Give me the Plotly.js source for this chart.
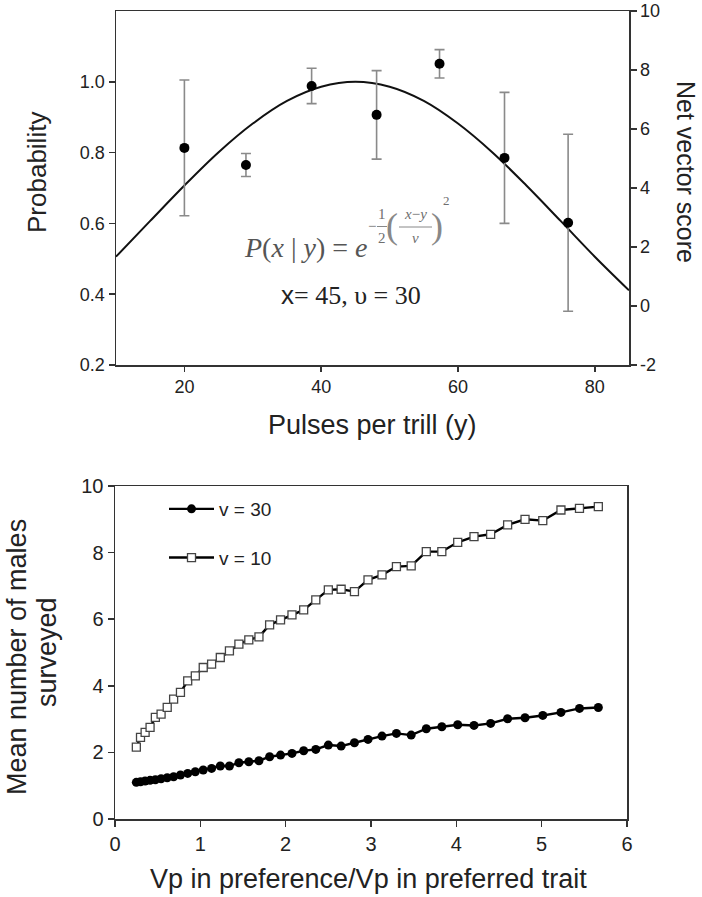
<!DOCTYPE html>
<html>
<head>
<meta charset="utf-8">
<script src="https://cdn.plot.ly/plotly-3.0.1.min.js"></script>
<style>html,body{margin:0;padding:0;background:#fff;}#chart{width:702px;height:897px;}</style>
</head>
<body>
<div id="chart"></div>
<script>
// ---- Top panel data ----
const pulsesX = [20, 29, 38.6, 48.1, 57.3, 66.8, 76.1];
const netVectorScore = [5.36, 4.78, 7.46, 6.48, 8.21, 5.02, 2.82];
const netVectorErr = [2.3, 0.39, 0.6, 1.5, 0.48, 2.22, 3.0];
const curveX = [10, 15, 20, 25, 30, 35, 40, 45, 50, 55, 60, 65, 70, 75, 80, 85];
const curveProb = [0.506, 0.607, 0.707, 0.801, 0.882, 0.946, 0.986, 1.0, 0.986, 0.946, 0.882, 0.801, 0.707, 0.607, 0.506, 0.411];
const probTicks = [0.2, 0.4, 0.6, 0.8, 1.0];
const scoreTicks = [-2, 0, 2, 4, 6, 8, 10];
const scoreTickText = ['-2', '0', '2', '4', '6', '8', '10'];

// ---- Bottom panel data ----
const vpRatio = [0.250, 0.299, 0.353, 0.411, 0.473, 0.540, 0.612, 0.687, 0.767, 0.852,
                 0.941, 1.034, 1.132, 1.234, 1.341, 1.452, 1.568, 1.687, 1.812, 1.940,
                 2.074, 2.211, 2.353, 2.500, 2.650, 2.806, 2.965, 3.129, 3.298, 3.471,
                 3.648, 3.830, 4.016, 4.207, 4.402, 4.601, 4.805, 5.013, 5.226, 5.443, 5.664];
const malesV30 = [1.10, 1.12, 1.14, 1.16, 1.18, 1.21, 1.24, 1.27, 1.32, 1.37,
                  1.42, 1.47, 1.52, 1.59, 1.59, 1.69, 1.72, 1.75, 1.87, 1.92,
                  1.97, 2.05, 2.09, 2.22, 2.19, 2.29, 2.39, 2.49, 2.57, 2.52,
                  2.71, 2.77, 2.83, 2.81, 2.87, 3.01, 3.04, 3.11, 3.20, 3.32, 3.35];
const malesV10 = [2.16, 2.45, 2.60, 2.75, 3.05, 3.15, 3.35, 3.60, 3.80, 4.15,
                  4.30, 4.55, 4.65, 4.85, 5.05, 5.25, 5.38, 5.47, 5.83, 5.98,
                  6.13, 6.28, 6.58, 6.88, 6.90, 6.83, 7.18, 7.33, 7.58, 7.60,
                  8.03, 8.03, 8.31, 8.48, 8.55, 8.83, 9.00, 8.96, 9.28, 9.33, 9.38];
const seriesNames = ['v = 30', 'v = 10'];

const W = 702, H = 897;
const px = v => v / W;
const py = v => 1 - v / H;

const sans = 'Liberation Sans, Arial';
const axisCommon = {
  showgrid: false, zeroline: false, showline: true, linecolor: '#333', linewidth: 1.5,
  ticks: 'outside', ticklen: 6, tickwidth: 1.5, tickcolor: '#333', ticklabeloverflow: 'allow',
  tickfont: {family: sans, size: 18, color: '#222'}
};

const traces = [
  {x: curveX, y: curveProb, xaxis: 'x', yaxis: 'y', mode: 'lines', line: {color: '#111', width: 2, shape: 'spline'}, showlegend: false, hoverinfo: 'skip'},
  {x: pulsesX, y: netVectorScore, xaxis: 'x', yaxis: 'y2', mode: 'markers', showlegend: false,
   marker: {color: '#000', size: 10},
   error_y: {type: 'data', array: netVectorErr, visible: true, color: '#8a8a8a', thickness: 1.6, width: 5}},
  {x: vpRatio, y: malesV30, xaxis: 'x3', yaxis: 'y3', mode: 'lines+markers', name: seriesNames[0], legendgroup: 'a',
   line: {color: '#000', width: 2.4}, marker: {symbol: 'circle', color: '#000', size: 9}},
  {x: vpRatio, y: malesV10, xaxis: 'x3', yaxis: 'y3', mode: 'lines+markers', name: seriesNames[1], legendgroup: 'b',
   line: {color: '#000', width: 2.4}, marker: {symbol: 'square', color: '#fff', size: 8, line: {color: '#444', width: 1.3}}}
];

const serif = 'Liberation Serif, Times New Roman';
const eqColor = '#555';
const expColor = '#6e6e6e';
const annots = [
  {x: px(37), y: py(173), text: 'Probability', textangle: -90, font: {family: sans, size: 26, color: '#222'}},
  {x: px(686), y: py(172), text: 'Net vector score', textangle: 90, font: {family: sans, size: 25, color: '#222'}},
  {x: px(372), y: py(425), text: 'Pulses per trill (y)', font: {family: sans, size: 27, color: '#222'}},
  {x: px(368), y: py(879), text: 'Vp in preference/Vp in preferred trait', font: {family: sans, size: 27, color: '#222'}},
  {x: px(17), y: py(657), text: 'Mean number of males', textangle: -90, font: {family: sans, size: 27, color: '#222'}},
  {x: px(47), y: py(652), text: 'surveyed', textangle: -90, font: {family: sans, size: 27, color: '#222'}},
  {x: px(305), y: py(248), text: '<i>P</i>(<i>x</i> | <i>y</i>) = <i>e</i>', font: {family: serif, size: 28, color: eqColor}},
  {x: px(372), y: py(226), text: '−', font: {family: serif, size: 15, color: expColor}},
  {x: px(382), y: py(214), text: '1', font: {family: serif, size: 15, color: expColor}},
  {x: px(382), y: py(238), text: '2', font: {family: serif, size: 15, color: expColor}},
  {x: px(392), y: py(226), text: '(', font: {family: serif, size: 36, color: '#888'}},
  {x: px(415), y: py(214), text: '<i>x</i>−<i>y</i>', font: {family: serif, size: 15, color: expColor}},
  {x: px(415), y: py(238), text: '<i>v</i>', font: {family: serif, size: 15, color: expColor}},
  {x: px(437), y: py(226), text: ')', font: {family: serif, size: 36, color: '#888'}},
  {x: px(447), y: py(200), text: '2', font: {family: serif, size: 13, color: expColor}},
  {x: px(351), y: py(295), text: '<span style="font-family:Liberation Sans, Arial">x</span>= 45, υ = 30', font: {family: serif, size: 26, color: '#222'}}
].map(a => Object.assign({xref: 'paper', yref: 'paper', showarrow: false, xanchor: 'center', yanchor: 'middle'}, a));

const shapes = [
  {type: 'line', xref: 'paper', yref: 'paper', x0: px(377), x1: px(387), y0: py(226.5), y1: py(226.5), line: {color: '#888', width: 1}},
  {type: 'line', xref: 'paper', yref: 'paper', x0: px(399), x1: px(432), y0: py(227), y1: py(227), line: {color: '#888', width: 1}}
];

const layout = {
  width: W, height: H,
  margin: {l: 0, r: 0, t: 0, b: 0},
  paper_bgcolor: '#fff', plot_bgcolor: '#fff',
  font: {family: sans, color: '#222'},
  xaxis: Object.assign({}, axisCommon, {domain: [px(116), px(629)], anchor: 'y', range: [10, 85], tickvals: [20, 40, 60, 80], mirror: true, ticklen: 5}),
  yaxis: Object.assign({}, axisCommon, {domain: [py(365), py(11)], anchor: 'x', range: [0.2, 1.2], tickvals: probTicks, tickformat: '.1f', mirror: true}),
  yaxis2: Object.assign({}, axisCommon, {overlaying: 'y', side: 'right', anchor: 'x', range: [-2.0001, 10.0001], tickvals: scoreTicks, ticktext: scoreTickText}),
  xaxis3: Object.assign({}, axisCommon, {domain: [px(115), px(627)], anchor: 'y3', range: [0, 6], dtick: 1, tick0: 0, mirror: true, tickfont: {family: sans, size: 20, color: '#222'}}),
  yaxis3: Object.assign({}, axisCommon, {domain: [py(819), py(486)], anchor: 'x3', range: [0, 10], dtick: 2, tick0: 0, mirror: true, tickfont: {family: sans, size: 20, color: '#222'}}),
  showlegend: true,
  legend: {x: px(164), y: py(490), xanchor: 'left', yanchor: 'top', bgcolor: 'rgba(0,0,0,0)', borderwidth: 0,
           itemwidth: 45, traceorder: 'grouped', tracegroupgap: 21, font: {family: sans, size: 19, color: '#222'}},
  annotations: annots,
  shapes: shapes
};

Plotly.newPlot('chart', traces, layout, {displayModeBar: false, staticPlot: true});
</script>
</body>
</html>
